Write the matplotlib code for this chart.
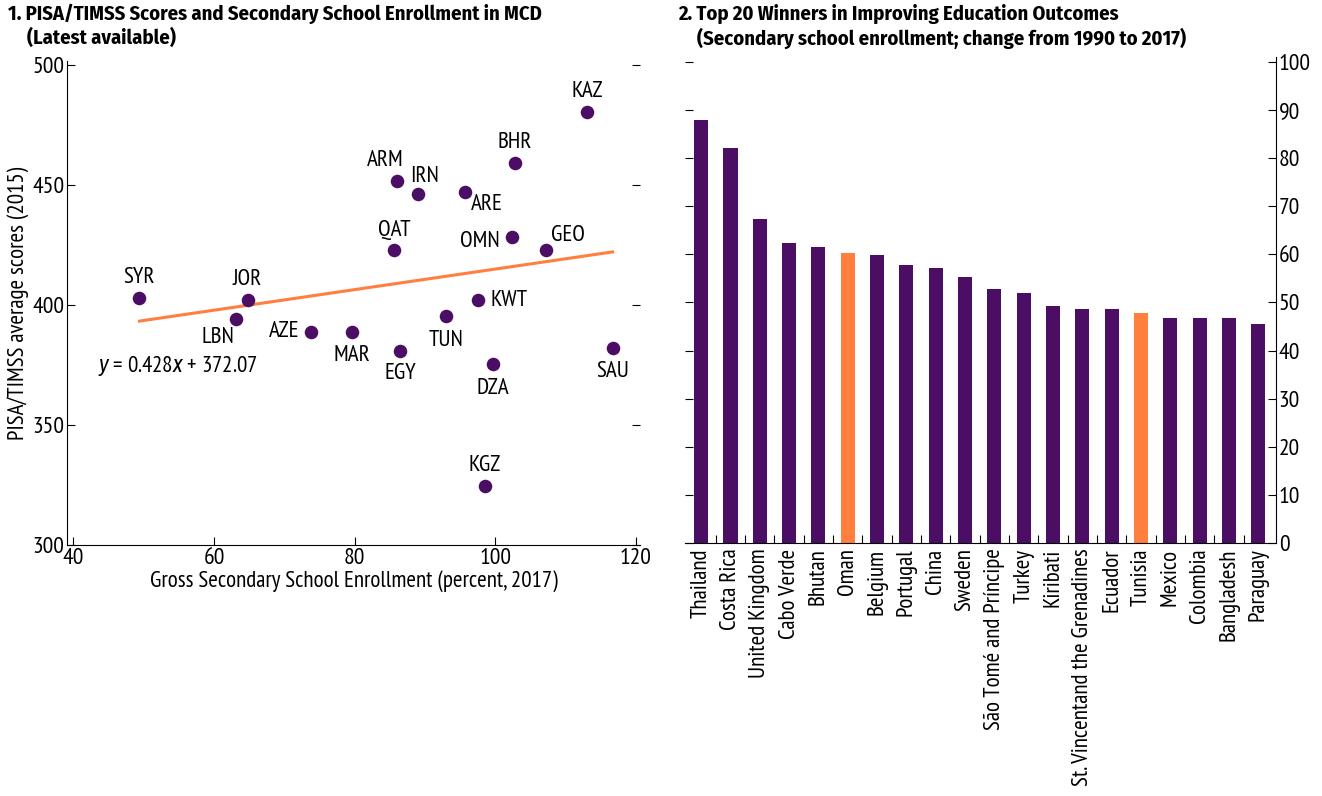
import numpy as np
import matplotlib
matplotlib.use("Agg")
import matplotlib.pyplot as plt

plt.rcParams['font.family'] = ['PT Sans Narrow', 'DejaVu Sans']
plt.rcParams['mathtext.fontset'] = 'custom'
plt.rcParams['mathtext.it'] = 'Archivo Narrow:italic'
plt.rcParams['mathtext.rm'] = 'PT Sans Narrow'

PURPLE = '#4b0e64'
ORANGE = '#ff7f3f'
FS = 16.6

## Data - panel 1
codes = ['KAZ', 'BHR', 'ARM', 'IRN', 'ARE', 'QAT', 'OMN', 'GEO', 'SYR', 'JOR',
         'LBN', 'AZE', 'MAR', 'EGY', 'TUN', 'KWT', 'DZA', 'SAU', 'KGZ']
enroll = [113.1, 102.8, 86.1, 89.0, 95.7, 85.6, 102.4, 107.3, 49.4, 64.8,
          63.2, 73.8, 79.6, 86.5, 93.0, 97.6, 99.7, 116.7, 98.5]
scores = [480.2, 459.2, 451.4, 446.0, 447.0, 422.8, 428.2, 422.8, 402.9, 402.0,
          394.0, 388.5, 388.5, 380.7, 395.3, 401.8, 375.3, 382.0, 324.5]
fit_slope, fit_icpt = 0.428, 372.07

## Data - panel 2
countries = ['Thailand', 'Costa Rica', 'United Kingdom', 'Cabo Verde', 'Bhutan',
             'Oman', 'Belgium', 'Portugal', 'China', 'Sweden',
             'São Tomé and Príncipe', 'Turkey', 'Kiribati',
             'St. Vincentand the Grenadines', 'Ecuador', 'Tunisia', 'Mexico',
             'Colombia', 'Bangladesh', 'Paraguay']
change = [87.9, 82.1, 67.3, 62.3, 61.6, 60.2, 59.8, 57.7, 57.1, 55.2,
          52.7, 52.0, 49.3, 48.7, 48.7, 47.9, 46.8, 46.8, 46.8, 45.6]
highlight = ['Oman', 'Tunisia']

# label centre offsets from the point, in pixels
offsets = {
    'KAZ': (0, 21), 'BHR': (0, 20), 'ARM': (-12, 21), 'IRN': (7, 18),
    'ARE': (22, -13), 'QAT': (0, 20), 'OMN': (-32, -4), 'GEO': (21, 15),
    'SYR': (0, 20), 'JOR': (0, 20), 'LBN': (-19, -18), 'AZE': (-27, 1),
    'MAR': (0, -23), 'EGY': (0, -22), 'TUN': (0, -24), 'KWT': (31, 0),
    'DZA': (0, -24), 'SAU': (0, -23), 'KGZ': (0, 21),
}

fig = plt.figure(figsize=(13.22, 7.96), dpi=100)

## Panel 1
ax = fig.add_axes([67/1322, 251/796, 573/1322, 484/796])
ax.scatter(enroll, scores, s=95, color=PURPLE, zorder=3, linewidths=0)
xfit = np.array([min(enroll), max(enroll)])
ax.plot(xfit, fit_slope*xfit + fit_icpt, color=ORANGE, lw=2.2, zorder=2)
for c, x, y in zip(codes, enroll, scores):
    dx, dy = offsets[c]
    ax.annotate(c, (x, y), xytext=(dx, dy), textcoords='offset pixels',
                ha='center', va='center', fontsize=FS)
ax.text(54.8, 374.6, r'$y$ = 0.428$x$ + 372.07', ha='center', va='center', fontsize=FS)
ax.set_xlim(39.1, 120.6)
ax.set_ylim(300, 501.5)
ax.set_xticks([40, 60, 80, 100, 120])
ax.set_yticks([300, 350, 400, 450, 500])
ax.spines['top'].set_visible(False)
ax.spines['right'].set_visible(False)
ax.tick_params(direction='in', length=6, labelsize=17, right=True, pad=2)
ax.set_xlabel('Gross Secondary School Enrollment (percent, 2017)', fontsize=FS, labelpad=1)
ax.set_ylabel('PISA/TIMSS average scores (2015)', fontsize=FS, labelpad=2)

## Panel 2
ax2 = fig.add_axes([685/1322, 253/796, 591/1322, 486/796])
pos = np.arange(len(countries))
cols = [ORANGE if c in highlight else PURPLE for c in countries]
ax2.bar(pos, change, width=0.48, color=cols, zorder=2)
ax2.set_xlim(-0.55, 19.6)
ax2.set_ylim(0, 101)
ax2.set_yticks(np.arange(0, 101, 10))
ax2.yaxis.tick_right()
ax2.tick_params(axis='y', which='both', direction='in', length=6, labelsize=17,
                left=True, right=True, labelleft=False, labelright=True, pad=2)
ax2.set_xticks(pos[:-1] + 0.5)
ax2.set_xticks(pos, minor=True)
ax2.set_xticklabels([])
ax2.set_xticklabels(countries, minor=True, rotation=90, fontsize=FS)
ax2.tick_params(axis='x', which='major', direction='in', length=6)
ax2.tick_params(axis='x', which='minor', length=0, pad=4)
ax2.spines['top'].set_visible(False)
ax2.spines['left'].set_visible(False)

## Titles
tfont = dict(fontsize=14.8, fontweight='bold', va='top', family=['Fira Sans Condensed', 'DejaVu Sans'])
fig.text(8/1322, 1-4/796, '1. PISA/TIMSS Scores and Secondary School Enrollment in MCD', **tfont)
fig.text(27/1322, 1-28/796, '(Latest available)', **tfont)
fig.text(678/1322, 1-4/796, '2. Top 20 Winners in Improving Education Outcomes', **tfont)
fig.text(697/1322, 1-28/796, '(Secondary school enrollment; change from 1990 to 2017)', **tfont)

fig.savefig('out.png', dpi=100)
